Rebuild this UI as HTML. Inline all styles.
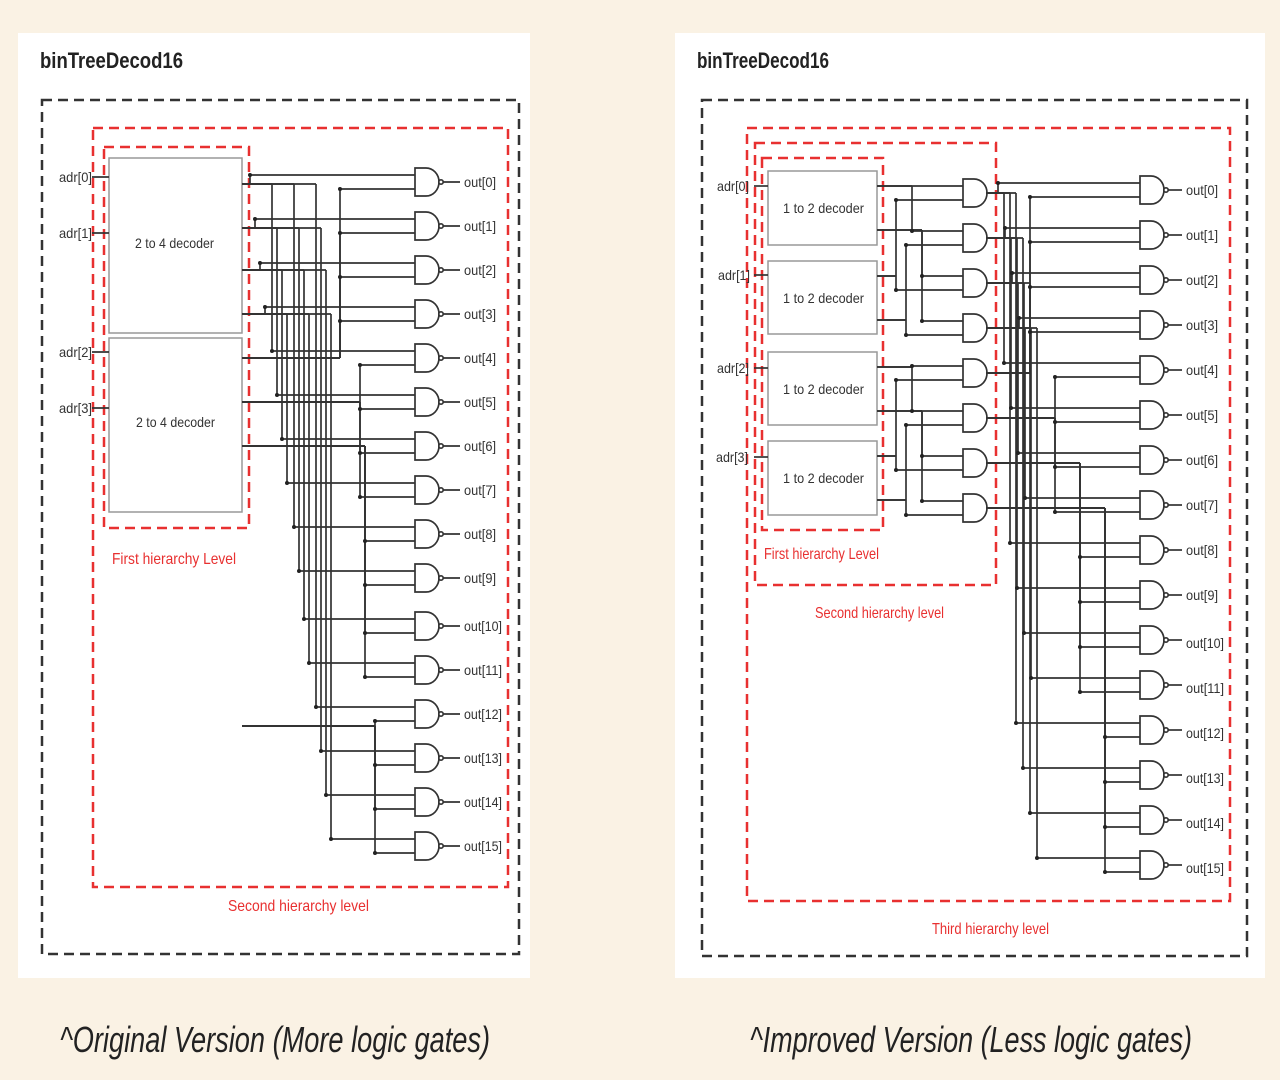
<!DOCTYPE html>
<html><head><meta charset="utf-8"><style>
html,body{margin:0;padding:0;background:#faf2e4;}
svg{display:block}
text{font-family:"Liberation Sans",sans-serif;}
</style></head><body>
<svg id="s" width="1280" height="1080" viewBox="0 0 1280 1080" xmlns="http://www.w3.org/2000/svg">
<rect x="0" y="0" width="1280" height="1080" fill="#faf2e4"/>
<rect x="18" y="33" width="512" height="945" fill="#fff"/>
<rect x="675" y="33" width="590" height="945" fill="#fff"/>
<text x="40" y="68" font-size="22" font-weight="bold" textLength="143" lengthAdjust="spacingAndGlyphs" fill="#222">binTreeDecod16</text>
<text x="697" y="68" font-size="22" font-weight="bold" textLength="132" lengthAdjust="spacingAndGlyphs" fill="#222">binTreeDecod16</text>
<g fill="none" stroke-width="2.5" stroke-dasharray="10,6">
<rect x="42" y="100" width="477" height="854" stroke="#333"/>
<rect x="93" y="128" width="415" height="759" stroke="#e83030"/>
<rect x="104" y="147" width="145" height="381" stroke="#e83030"/>
<rect x="702" y="100" width="545" height="856" stroke="#333"/>
<rect x="747" y="128" width="483" height="773" stroke="#e83030"/>
<rect x="755" y="143" width="241" height="442" stroke="#e83030"/>
<rect x="762" y="158" width="121" height="372" stroke="#e83030"/>
</g>
<g fill="#fff" stroke="#999" stroke-width="1.5">
<rect x="109" y="158" width="133" height="175"/>
<rect x="109" y="338" width="133" height="174"/>
<rect x="768" y="171" width="109" height="74"/>
<rect x="768" y="261" width="109" height="73"/>
<rect x="768" y="352" width="109" height="73"/>
<rect x="768" y="441" width="109" height="74"/>
</g>
<g font-size="14" fill="#333">
<text x="135" y="248" textLength="79" lengthAdjust="spacingAndGlyphs">2 to 4 decoder</text>
<text x="136" y="427" textLength="79" lengthAdjust="spacingAndGlyphs">2 to 4 decoder</text>
<text x="783" y="213" textLength="81" lengthAdjust="spacingAndGlyphs">1 to 2 decoder</text>
<text x="783" y="303" textLength="81" lengthAdjust="spacingAndGlyphs">1 to 2 decoder</text>
<text x="783" y="394" textLength="81" lengthAdjust="spacingAndGlyphs">1 to 2 decoder</text>
<text x="783" y="483" textLength="81" lengthAdjust="spacingAndGlyphs">1 to 2 decoder</text>
<text x="59" y="182" textLength="33" lengthAdjust="spacingAndGlyphs">adr[0]</text>
<text x="59" y="238" textLength="33" lengthAdjust="spacingAndGlyphs">adr[1]</text>
<text x="59" y="357" textLength="33" lengthAdjust="spacingAndGlyphs">adr[2]</text>
<text x="59" y="413" textLength="33" lengthAdjust="spacingAndGlyphs">adr[3]</text>
<text x="717" y="191" textLength="32" lengthAdjust="spacingAndGlyphs">adr[0]</text>
<text x="718" y="280" textLength="32" lengthAdjust="spacingAndGlyphs">adr[1]</text>
<text x="717" y="373" textLength="32" lengthAdjust="spacingAndGlyphs">adr[2]</text>
<text x="716" y="462" textLength="32" lengthAdjust="spacingAndGlyphs">adr[3]</text>
</g>
<g font-size="16" fill="#e83030">
<text x="112" y="564" textLength="124" lengthAdjust="spacingAndGlyphs">First hierarchy Level</text>
<text x="228" y="911" textLength="141" lengthAdjust="spacingAndGlyphs">Second hierarchy level</text>
<text x="764" y="559" textLength="115" lengthAdjust="spacingAndGlyphs">First hierarchy Level</text>
<text x="815" y="618" textLength="129" lengthAdjust="spacingAndGlyphs">Second hierarchy level</text>
<text x="932" y="934" textLength="117" lengthAdjust="spacingAndGlyphs">Third hierarchy level</text>
</g>
<g font-size="14" fill="#333" id="outs">
<text x="464" y="187" textLength="32" lengthAdjust="spacingAndGlyphs">out[0]</text>
<text x="464" y="231" textLength="32" lengthAdjust="spacingAndGlyphs">out[1]</text>
<text x="464" y="275" textLength="32" lengthAdjust="spacingAndGlyphs">out[2]</text>
<text x="464" y="319" textLength="32" lengthAdjust="spacingAndGlyphs">out[3]</text>
<text x="464" y="363" textLength="32" lengthAdjust="spacingAndGlyphs">out[4]</text>
<text x="464" y="407" textLength="32" lengthAdjust="spacingAndGlyphs">out[5]</text>
<text x="464" y="451" textLength="32" lengthAdjust="spacingAndGlyphs">out[6]</text>
<text x="464" y="495" textLength="32" lengthAdjust="spacingAndGlyphs">out[7]</text>
<text x="464" y="539" textLength="32" lengthAdjust="spacingAndGlyphs">out[8]</text>
<text x="464" y="583" textLength="32" lengthAdjust="spacingAndGlyphs">out[9]</text>
<text x="464" y="631" textLength="38" lengthAdjust="spacingAndGlyphs">out[10]</text>
<text x="464" y="675" textLength="38" lengthAdjust="spacingAndGlyphs">out[11]</text>
<text x="464" y="719" textLength="38" lengthAdjust="spacingAndGlyphs">out[12]</text>
<text x="464" y="763" textLength="38" lengthAdjust="spacingAndGlyphs">out[13]</text>
<text x="464" y="807" textLength="38" lengthAdjust="spacingAndGlyphs">out[14]</text>
<text x="464" y="851" textLength="38" lengthAdjust="spacingAndGlyphs">out[15]</text>
<text x="1186" y="195" textLength="32" lengthAdjust="spacingAndGlyphs">out[0]</text>
<text x="1186" y="240" textLength="32" lengthAdjust="spacingAndGlyphs">out[1]</text>
<text x="1186" y="285" textLength="32" lengthAdjust="spacingAndGlyphs">out[2]</text>
<text x="1186" y="330" textLength="32" lengthAdjust="spacingAndGlyphs">out[3]</text>
<text x="1186" y="375" textLength="32" lengthAdjust="spacingAndGlyphs">out[4]</text>
<text x="1186" y="420" textLength="32" lengthAdjust="spacingAndGlyphs">out[5]</text>
<text x="1186" y="465" textLength="32" lengthAdjust="spacingAndGlyphs">out[6]</text>
<text x="1186" y="510" textLength="32" lengthAdjust="spacingAndGlyphs">out[7]</text>
<text x="1186" y="555" textLength="32" lengthAdjust="spacingAndGlyphs">out[8]</text>
<text x="1186" y="600" textLength="32" lengthAdjust="spacingAndGlyphs">out[9]</text>
<text x="1186" y="648" textLength="38" lengthAdjust="spacingAndGlyphs">out[10]</text>
<text x="1186" y="693" textLength="38" lengthAdjust="spacingAndGlyphs">out[11]</text>
<text x="1186" y="738" textLength="38" lengthAdjust="spacingAndGlyphs">out[12]</text>
<text x="1186" y="783" textLength="38" lengthAdjust="spacingAndGlyphs">out[13]</text>
<text x="1186" y="828" textLength="38" lengthAdjust="spacingAndGlyphs">out[14]</text>
<text x="1186" y="873" textLength="38" lengthAdjust="spacingAndGlyphs">out[15]</text>
</g>
<g font-size="36" font-style="italic" fill="#222">
<text x="60" y="1052" textLength="430" lengthAdjust="spacingAndGlyphs">^Original Version (More logic gates)</text>
<text x="750" y="1052" textLength="442" lengthAdjust="spacingAndGlyphs">^Improved Version (Less logic gates)</text>
</g>
<g id="w" stroke="#333" stroke-width="1.7" fill="none"></g>
<g id="d" fill="#222"></g>
</svg>
<script>
(function(){
var W=document.getElementById('w'),D=document.getElementById('d'),NS='http://www.w3.org/2000/svg';
function el(p,t,a){var e=document.createElementNS(NS,t);for(var k in a)e.setAttribute(k,a[k]);p.appendChild(e);return e;}
function L(x1,y1,x2,y2){el(W,'line',{x1:x1,y1:y1,x2:x2,y2:y2});}
function dot(x,y){el(D,'circle',{cx:x,cy:y,r:2});}
function gate(x,y,nand,lx){var h=28,w=22;
 el(W,'path',{d:'M'+x+','+(y-h/2)+' H'+(x+w/2)+' A'+(w/2+2)+','+(h/2)+' 0 0 1 '+(x+w/2)+','+(y+h/2)+' H'+x+' Z',fill:'#fff'});
 if(nand){el(W,'circle',{cx:x+w+4,cy:y,r:2.2,fill:'#fff'});L(x+w+6,y,lx,y);}
}
function con(sx,sy,bx,dy,dx){L(sx,sy,bx,sy);L(bx,sy,bx,dy);L(bx,dy,dx,dy);if(sy!=dy)dot(bx,dy);}
// LEFT
L(92,177,109,177);L(92,233,109,233);L(92,352,109,352);L(92,408,109,408);
var gy=[182,226,270,314,358,402,446,490,534,578,626,670,714,758,802,846];
var d1=[184,228,270,314],d2=[358,402,446,490];
var x2=[340,360,365,375];
for(var i=0;i<16;i++){var y=gy[i],j=i%4,k=Math.floor(i/4);
 var bx = 250+j*5+k*22;
 con(242,d1[j],bx,y-7,415);
 var sy2=(k==3)?726:d2[k];
 con(242,sy2,x2[k],y+7,415);
 gate(415,y,true,460);
}
// RIGHT
L(754,186,768,186);L(754,275,768,275);L(754,368,768,368);L(754,457,768,457);
var g1=[193,238,283,328,373,418,463,508];
var dtop=[171,261,352,441];
for(var g=0;g<8;g++){var p=Math.floor(g/4),jj=g%4,a=jj>>1,b=jj&1;
 var da=2*p,db=2*p+1;
 var sa= a? dtop[da]+59 : dtop[da]+15, sb= b? dtop[db]+59: dtop[db]+15;
 con(877,sa,912+a*10,g1[g]-7,963);
 con(877,sb,896+b*10,g1[g]+7,963);
 gate(963,g1[g],false,0);
}
for(var i=0;i<16;i++){var y=190+i*45,j=i%4,k=Math.floor(i/4);
 var s1=g1[j],s2=g1[4+k];
 con(986,s1,998+j*7+(i>=4?k*6:0),y-7,1140);
 con(986,s2,1030+k*25,y+7,1140);
 gate(1140,y,true,1182);
}
})();
</script>
</body></html>
